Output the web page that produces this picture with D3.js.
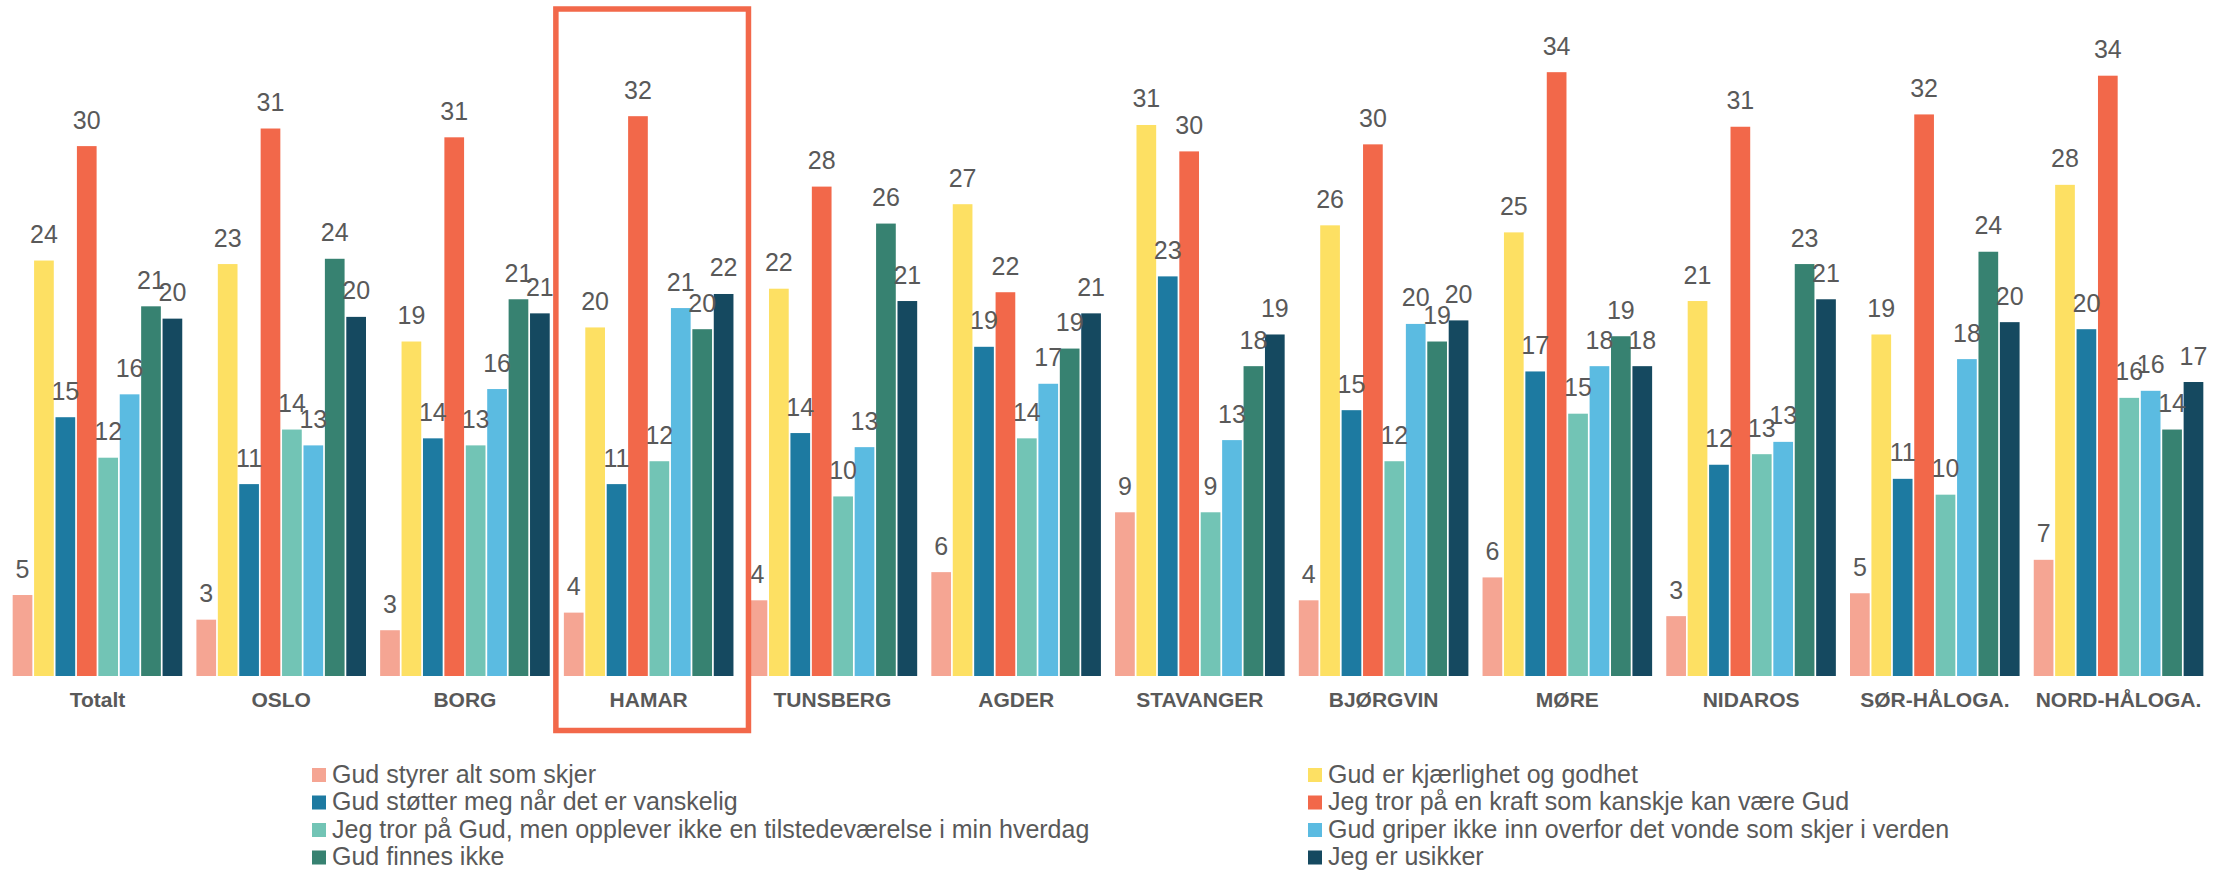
<!DOCTYPE html>
<html>
<head>
<meta charset="utf-8">
<script src="https://cdn.jsdelivr.net/npm/d3@7"></script>
<style>
  html, body { margin: 0; padding: 0; background: #ffffff; }
  svg { display: block; }
</style>
</head>
<body>
<svg id="chart" width="2229" height="870"></svg>
<script>
// ---- data ----
const categories = ["Totalt", "OSLO", "BORG", "HAMAR", "TUNSBERG", "AGDER", "STAVANGER", "BJØRGVIN", "MØRE", "NIDAROS", "SØR-HÅLOGA.", "NORD-HÅLOGA."];
const seriesNames = [
  "Gud styrer alt som skjer",
  "Gud er kjærlighet og godhet",
  "Gud støtter meg når det er vanskelig",
  "Jeg tror på en kraft som kanskje kan være Gud",
  "Jeg tror på Gud, men opplever ikke en tilstedeværelse i min hverdag",
  "Gud griper ikke inn overfor det vonde som skjer i verden",
  "Gud finnes ikke",
  "Jeg er usikker"
];
const seriesColors = ["#F5A593", "#FDE063", "#1D7AA1", "#F2684A", "#72C4B5", "#5BBBE1", "#378271", "#154960"];
// values per series, in category order
const gudStyrer    = [4.6, 3.2, 2.6, 3.6, 4.3, 5.9, 9.3, 4.3, 5.6, 3.4, 4.7, 6.6];
const gudKjaerlig  = [23.6, 23.4, 19.0, 19.8, 22.0, 26.8, 31.3, 25.6, 25.2, 21.3, 19.4, 27.9];
const gudStotter   = [14.7, 10.9, 13.5, 10.9, 13.8, 18.7, 22.7, 15.1, 17.3, 12.0, 11.2, 19.7];
const kraft        = [30.1, 31.1, 30.6, 31.8, 27.8, 21.8, 29.8, 30.2, 34.3, 31.2, 31.9, 34.1];
const troIkkeOppl  = [12.4, 14.0, 13.1, 12.2, 10.2, 13.5, 9.3, 12.2, 14.9, 12.6, 10.3, 15.8];
const griperIkke   = [16.0, 13.1, 16.3, 20.9, 13.0, 16.6, 13.4, 20.0, 17.6, 13.3, 18.0, 16.2];
const finnesIkke   = [21.0, 23.7, 21.4, 19.7, 25.7, 18.6, 17.6, 19.0, 19.3, 23.4, 24.1, 14.0];
const usikker      = [20.3, 20.4, 20.6, 21.7, 21.3, 20.6, 19.4, 20.2, 17.6, 21.4, 20.1, 16.7];
const seriesValues = [gudStyrer, gudKjaerlig, gudStotter, kraft, troIkkeOppl, griperIkke, finnesIkke, usikker];
const highlighted = "HAMAR";

// ---- layout ----
const svg = d3.select("#chart");
const baseY = 676;
const textColor = "#595959";

const x0 = d3.scaleBand()
  .domain(categories)
  .range([5.6, 2210.4])
  .paddingInner(0.077)
  .paddingOuter(0.0385);

const x1 = d3.scaleBand()
  .domain(d3.range(seriesNames.length))
  .range([0, x0.bandwidth()])
  .paddingInner(0.08);

const y = d3.scaleLinear().domain([0, 38.4]).range([baseY, 0]);

// groups
const groups = svg.append("g").selectAll("g")
  .data(categories)
  .join("g")
  .attr("transform", d => `translate(${x0(d)},0)`);

groups.selectAll("rect")
  .data((c, ci) => seriesValues.map((vals, si) => ({ si, v: vals[ci] })))
  .join("rect")
  .attr("x", d => x1(d.si))
  .attr("y", d => y(d.v))
  .attr("width", x1.bandwidth())
  .attr("height", d => baseY - y(d.v))
  .attr("fill", d => seriesColors[d.si]);

groups.selectAll("text.val")
  .data((c, ci) => seriesValues.map((vals, si) => ({ si, v: vals[ci] })))
  .join("text")
  .attr("class", "val")
  .attr("x", d => x1(d.si) + x1.bandwidth() / 2)
  .attr("y", d => y(d.v) - 17.5)
  .attr("text-anchor", "middle")
  .attr("font-family", "Liberation Sans, Arial, sans-serif")
  .attr("font-size", 25)
  .attr("fill", textColor)
  .text(d => Math.round(d.v));

// category axis labels
const xAxis = d3.axisBottom(x0).tickSize(0).tickPadding(0);
const axisG = svg.append("g")
  .attr("transform", `translate(0,${baseY})`)
  .call(xAxis);
axisG.select(".domain").remove();
axisG.selectAll("text")
  .attr("y", 31)
  .attr("dy", 0)
  .attr("font-family", "Liberation Sans, Arial, sans-serif")
  .attr("font-size", 21)
  .attr("font-weight", "bold")
  .attr("fill", textColor);

// highlight box around HAMAR
svg.append("rect")
  .attr("x", x0(highlighted) - 8)
  .attr("y", 9)
  .attr("width", x0.bandwidth() + 23)
  .attr("height", 730.5 - 9)
  .attr("fill", "none")
  .attr("stroke", "#F2684A")
  .attr("stroke-width", 5.5);

// legend: two columns, row-major
const legendCols = [312, 1308];
const legendRowY = [768, 795.5, 823, 850.5];
const legend = svg.append("g").selectAll("g")
  .data(seriesNames)
  .join("g")
  .attr("transform", (d, i) => `translate(${legendCols[i % 2]},${legendRowY[Math.floor(i / 2)]})`);
legend.append("rect")
  .attr("width", 14)
  .attr("height", 14)
  .attr("fill", (d, i) => seriesColors[i]);
legend.append("text")
  .attr("x", 20)
  .attr("y", 14.5)
  .attr("font-family", "Liberation Sans, Arial, sans-serif")
  .attr("font-size", 25)
  .attr("fill", textColor)
  .text(d => d);
</script>
</body>
</html>
